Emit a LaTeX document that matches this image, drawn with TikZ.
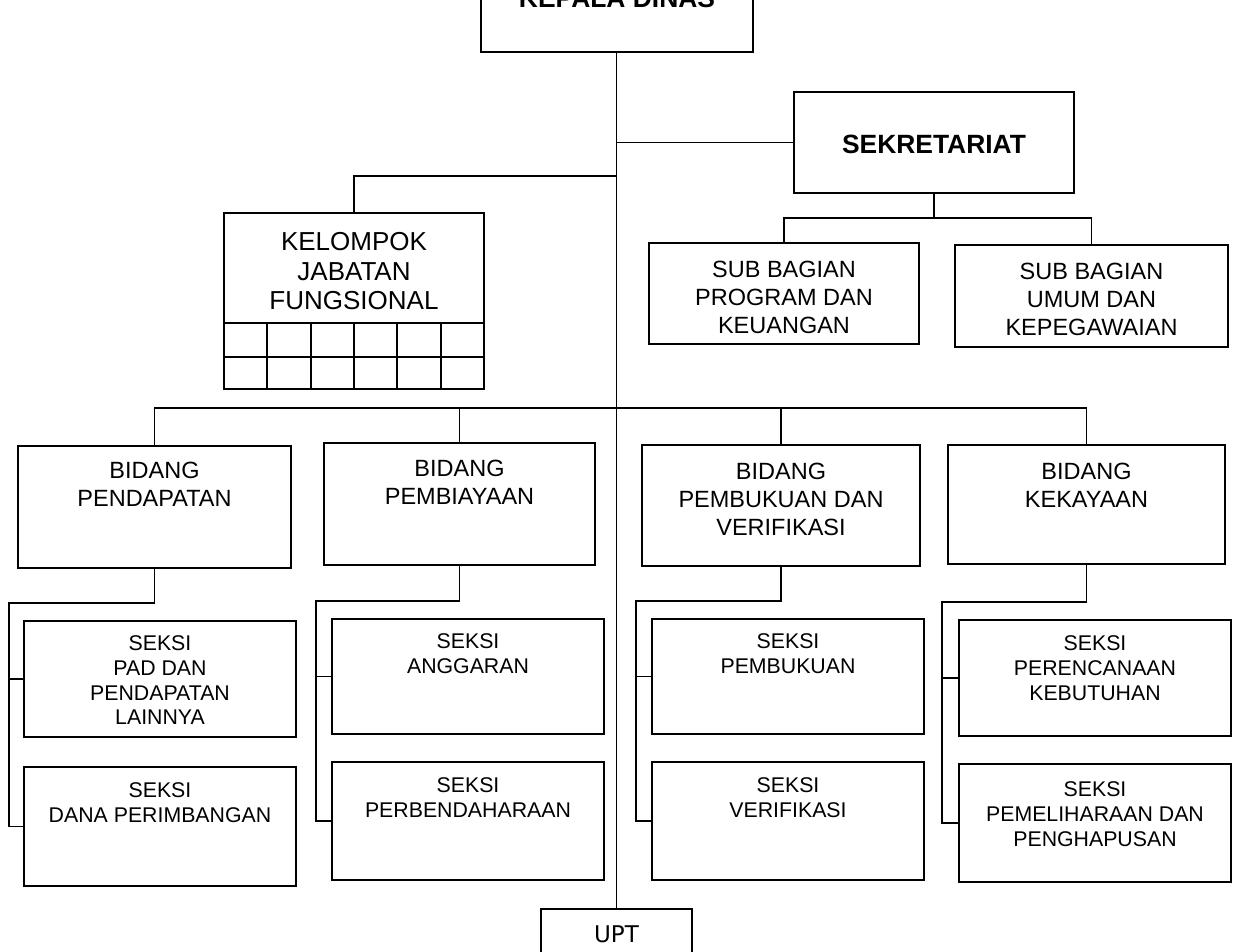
\documentclass[tikz,border=0pt]{standalone}
\usepackage{fontspec}
\setmainfont{Liberation Sans}
\newfontfamily\uptfont{DejaVu Sans}
\usetikzlibrary{calc}

\tikzset{
  x=1pt, y=-1pt,
  conn/.style={draw=black, line width=1.8pt},
  obox/.style={draw=black, line width=1.8pt, inner sep=0pt, outer sep=0pt},
  lbl/.style={inner sep=0pt, outer sep=0pt, align=center, anchor=north},
  seksi/.style={lbl, font=\fontsize{21.3}{24.6}\selectfont},
  bidang/.style={lbl, font=\fontsize{23.5}{28}\selectfont},
  big/.style={lbl, font=\fontsize{26}{29.5}\selectfont},
  head/.style={lbl, font=\bfseries\fontsize{26.4}{30}\selectfont},
}

% box from its upper left corner (x1,y1) to its lower right corner (x2,y2)
\newcommand\orgbox[5]{%
  \node[obox, anchor=north west,
        minimum width={(#4-#2)*1pt}, minimum height={(#5-#3)*1pt}]
        (#1) at (#2,#3) {};}

\begin{document}
\begin{tikzpicture}
\clip (0,0) rectangle (1234,952);
\fill[white] (0,0) rectangle (1234,952);

% ---- boxes ----
\orgbox{kepala}{481}{-60}{753}{52}
\orgbox{sek}{794}{92}{1074}{193}
\orgbox{kel}{224}{213}{484}{389}
\orgbox{subA}{649}{243}{919}{344}
\orgbox{subB}{955}{245}{1228}{347}

\orgbox{bA}{18}{446}{291}{568}
\orgbox{bB}{324}{443}{595}{565}
\orgbox{bC}{642}{445}{920}{566}
\orgbox{bD}{948}{445}{1225}{564}

\orgbox{sA1}{24}{621}{296}{737}
\orgbox{sA2}{24}{767}{296}{886}
\orgbox{sB1}{332}{619}{604}{734}
\orgbox{sB2}{332}{762}{604}{880}
\orgbox{sC1}{652}{619}{924}{734}
\orgbox{sC2}{652}{762}{924}{880}
\orgbox{sD1}{959}{620}{1231}{736}
\orgbox{sD2}{959}{764}{1231}{882}

\orgbox{upt}{541}{909}{692}{1000}

% table under the functional group title
\draw[conn] (224,323) -- (484,323);
\draw[conn] (224,357) -- (484,357);
\foreach \gx in {267.3,310.7,354,397.3,440.7}
  \draw[conn] (\gx,323) -- (\gx,389);

% ---- labels ----
\node[head] (kepalaT) at (617,-11) {KEPALA DINAS};
\node[head] (sekT) at (934,135) {SEKRETARIAT};
\node[big] (kelT) at (354,232.5) {KELOMPOK\\JABATAN\\FUNGSIONAL};
\node[bidang] (subAT) at (784,261) {SUB BAGIAN\\PROGRAM DAN\\KEUANGAN};
\node[bidang] (subBT) at (1091.5,263) {SUB BAGIAN\\UMUM DAN\\KEPEGAWAIAN};

\node[bidang] (bAT) at (154.5,462) {BIDANG\\PENDAPATAN};
\node[bidang] (bBT) at (459.5,460) {BIDANG\\PEMBIAYAAN};
\node[bidang] (bCT) at (781,463) {BIDANG\\PEMBUKUAN DAN\\VERIFIKASI};
\node[bidang] (bDT) at (1086.5,463) {BIDANG\\KEKAYAAN};

\node[seksi] (sA1T) at (160,636) {SEKSI\\PAD DAN\\PENDAPATAN\\LAINNYA};
\node[seksi] (sA2T) at (160,782.7) {SEKSI\\DANA PERIMBANGAN};
\node[seksi] (sB1T) at (468,634) {SEKSI\\ANGGARAN};
\node[seksi] (sB2T) at (468,778) {SEKSI\\PERBENDAHARAAN};
\node[seksi] (sC1T) at (788,634) {SEKSI\\PEMBUKUAN};
\node[seksi] (sC2T) at (788,778) {SEKSI\\VERIFIKASI};
\node[seksi] (sD1T) at (1095,636) {SEKSI\\PERENCANAAN\\KEBUTUHAN};
\node[seksi] (sD2T) at (1095,782) {SEKSI\\PEMELIHARAAN DAN\\PENGHAPUSAN};

\node[lbl, font=\uptfont\fontsize{23}{27}\selectfont] (uptT) at (616.5,926) {UPT};

% ---- connectors ----
\coordinate (kelbus) at (617,176);
\coordinate (subbus) at (934,218);
\coordinate (bidbus) at (617,408);
\coordinate (railA) at (9,603);
\coordinate (railB) at (316,601);
\coordinate (railC) at (636,601);
\coordinate (railD) at (942,602);

\draw[conn] (kepala.south -| upt.north) -- (upt.north);
\draw[conn] (sek.west) -- (sek.west -| upt.north);
\draw[conn] (kel.north) |- (kelbus);

\draw[conn] (sek.south) -- (subbus);
\draw[conn] (subA.north) |- (subbus) -| (subB.north);

\draw[conn] (bA.north) |- (bidbus);
\draw[conn] (bD.north) |- (bidbus);
\draw[conn] (bB.north) -- (bB.north |- bidbus);
\draw[conn] (bC.north) -- (bC.north |- bidbus);

\draw[conn] (bA.south) |- (railA) |- (sA2.west);
\draw[conn] (sA1.west) -- (sA1.west -| railA);
\draw[conn] (bB.south) |- (railB) |- (sB2.west);
\draw[conn] (sB1.west) -- (sB1.west -| railB);
\draw[conn] (bC.south) |- (railC) |- (sC2.west);
\draw[conn] (sC1.west) -- (sC1.west -| railC);
\draw[conn] (bD.south) |- (railD) |- (sD2.west);
\draw[conn] (sD1.west) -- (sD1.west -| railD);
\end{tikzpicture}
\end{document}
